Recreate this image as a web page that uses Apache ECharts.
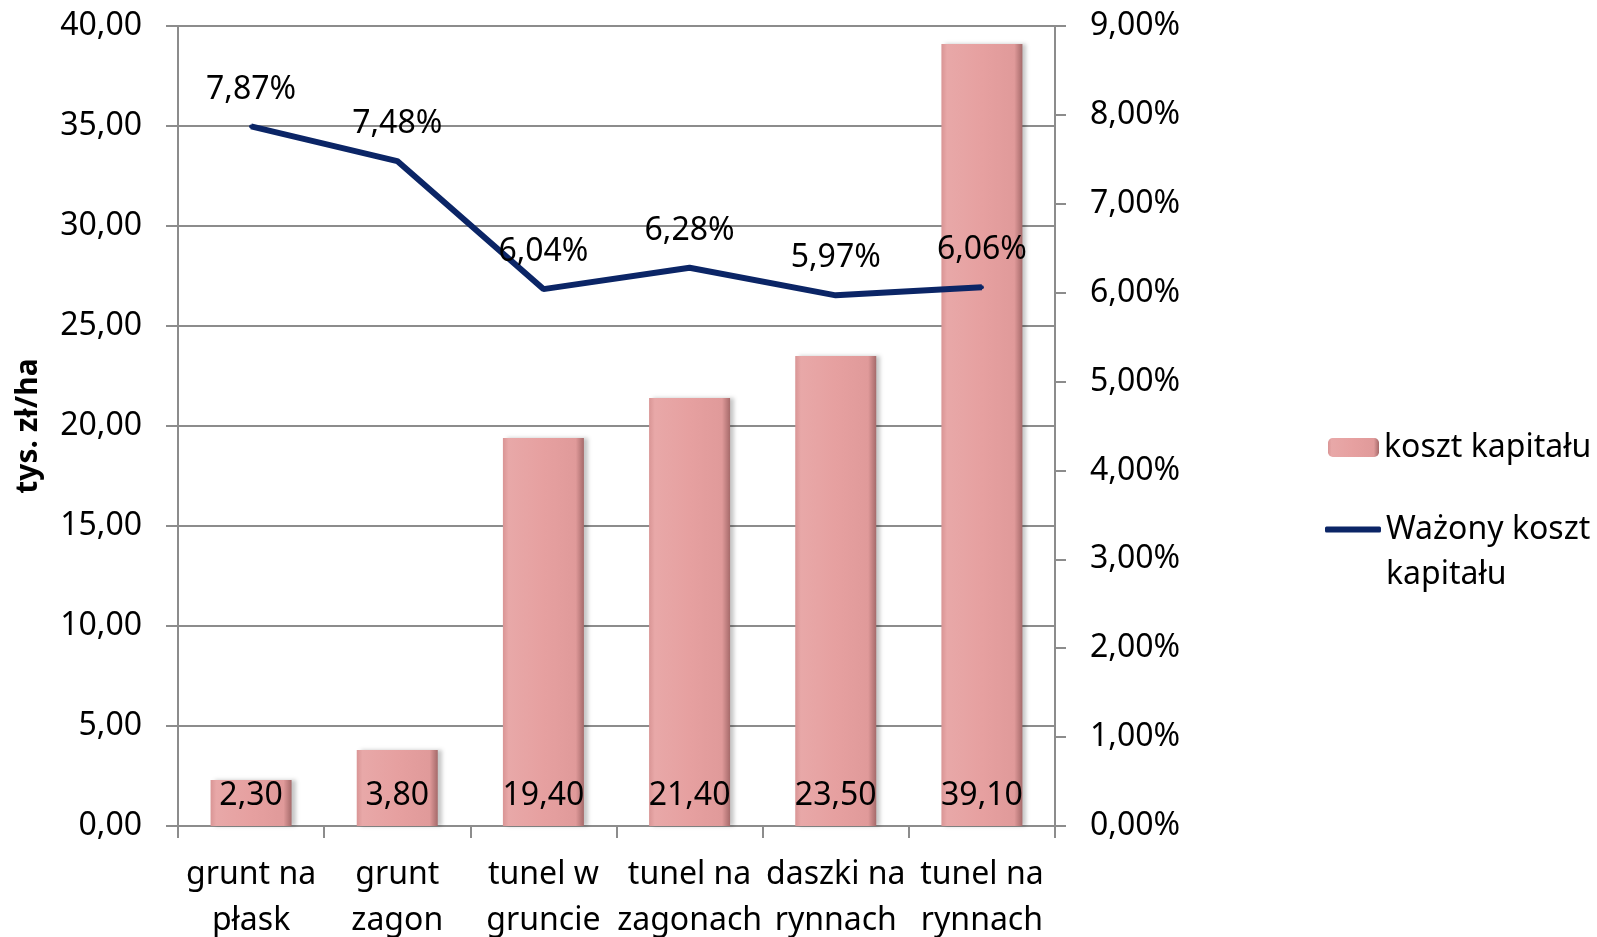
<!DOCTYPE html>
<html>
<head>
<meta charset="utf-8">
<script src="https://cdn.jsdelivr.net/npm/echarts@6/dist/echarts.min.js"></script>
<style>
  html, body { margin: 0; padding: 0; background: #fff; }
  #chart { width: 1597px; height: 937px; }
</style>
</head>
<body>
<div id="chart"></div>
<script>
// dane
const categories = ['grunt na\npłask', 'grunt\nzagon', 'tunel w\ngruncie', 'tunel na\nzagonach', 'daszki na\nrynnach', 'tunel na\nrynnach'];
const kosztKapitalu = [2.30, 3.80, 19.40, 21.40, 23.50, 39.10];
const wazonyKoszt = [7.87, 7.48, 6.04, 6.28, 5.97, 6.06];
const leftTicks = { min: 0, max: 40, interval: 5 };
const rightTicks = { min: 0, max: 9, interval: 1 };

const FONT = '"Noto Sans", sans-serif';
const FS = 32;
const fmt = (v) => v.toFixed(2).replace('.', ',');

const chart = echarts.init(document.getElementById('chart'));

const barFill = new echarts.graphic.LinearGradient(0, 0, 1, 0, [
  { offset: 0, color: '#D99595' },
  { offset: 0.07, color: '#E8A8A8' },
  { offset: 0.5, color: '#E6A0A0' },
  { offset: 0.9, color: '#E09A9A' },
  { offset: 1, color: '#A56A6A' }
]);

const option = {
  animation: false,
  textStyle: { fontFamily: FONT },
  grid: { left: 178, right: 542, top: 26, bottom: 111, containLabel: false, outerBoundsMode: 'none' },
  legend: [
    {
      data: ['koszt kapitału'],
      orient: 'vertical',
      left: 1323,
      top: 420,
      itemWidth: 51,
      itemHeight: 19,
      textStyle: { fontSize: FS, color: '#000', lineHeight: 45, fontFamily: FONT }
    },
    {
      data: [{ name: 'Ważony koszt kapitału', icon: 'roundRect' }],
      orient: 'vertical',
      left: 1320,
      top: 457,
      itemWidth: 56,
      itemHeight: 6,
      // pusta pierwsza linia: środkowa linia wyrównana z ikoną
      formatter: () => '\nWażony koszt\nkapitału',
      textStyle: { fontSize: FS, color: '#000', lineHeight: 45, fontFamily: FONT }
    }
  ],
  xAxis: {
    type: 'category',
    data: categories,
    axisLine: { lineStyle: { color: '#8C8C8C', width: 2 } },
    axisTick: { show: true, length: 12, lineStyle: { color: '#8C8C8C', width: 2 } },
    axisLabel: { interval: 0, fontSize: FS, color: '#000', lineHeight: 46, margin: 26, fontFamily: FONT }
  },
  yAxis: [
    {
      type: 'value',
      min: leftTicks.min, max: leftTicks.max, interval: leftTicks.interval,
      name: 'tys. zł/ha',
      nameLocation: 'middle',
      nameRotate: 90,
      nameGap: 135,
      nameTextStyle: { fontSize: 30, fontWeight: 'bold', color: '#000', fontFamily: FONT },
      axisLine: { show: true, lineStyle: { color: '#8C8C8C', width: 2 } },
      axisTick: { show: true, length: 12, lineStyle: { color: '#8C8C8C', width: 2 } },
      axisLabel: { fontSize: FS, color: '#000', margin: 36, formatter: fmt, fontFamily: FONT },
      splitLine: { show: true, lineStyle: { color: '#8C8C8C', width: 2 } }
    },
    {
      type: 'value',
      min: rightTicks.min, max: rightTicks.max, interval: rightTicks.interval,
      position: 'right',
      axisLine: { show: true, lineStyle: { color: '#8C8C8C', width: 2 } },
      axisTick: { show: true, length: 11, lineStyle: { color: '#8C8C8C', width: 2 } },
      axisLabel: { fontSize: FS, color: '#000', margin: 35, formatter: (v) => fmt(v) + '%', fontFamily: FONT },
      splitLine: { show: false }
    }
  ],
  series: [
    {
      name: 'koszt kapitału',
      type: 'bar',
      yAxisIndex: 0,
      data: kosztKapitalu,
      barWidth: 81,
      itemStyle: {
        color: barFill,
        borderColor: '#F3C6C6',
        borderWidth: 0,
        shadowColor: 'rgba(0,0,0,0.22)',
        shadowBlur: 4,
        shadowOffsetX: 4,
        shadowOffsetY: 0
      },
      label: {
        show: true,
        position: 'insideBottom',
        distance: 14,
        fontSize: FS,
        color: '#000',
        fontFamily: FONT,
        formatter: (p) => fmt(p.value)
      },
      z: 2
    },
    {
      name: 'Ważony koszt kapitału',
      type: 'line',
      yAxisIndex: 1,
      data: wazonyKoszt,
      symbol: 'circle',
      symbolSize: 4,
      showSymbol: true,
      lineStyle: { color: '#0B2566', width: 6 },
      itemStyle: { color: '#0B2566' },
      label: {
        show: true,
        position: 'top',
        distance: 19,
        fontSize: FS,
        color: '#000',
        fontFamily: FONT,
        formatter: (p) => fmt(p.value) + '%'
      },
      z: 3
    }
  ]
};

chart.setOption(option);
</script>
</body>
</html>
